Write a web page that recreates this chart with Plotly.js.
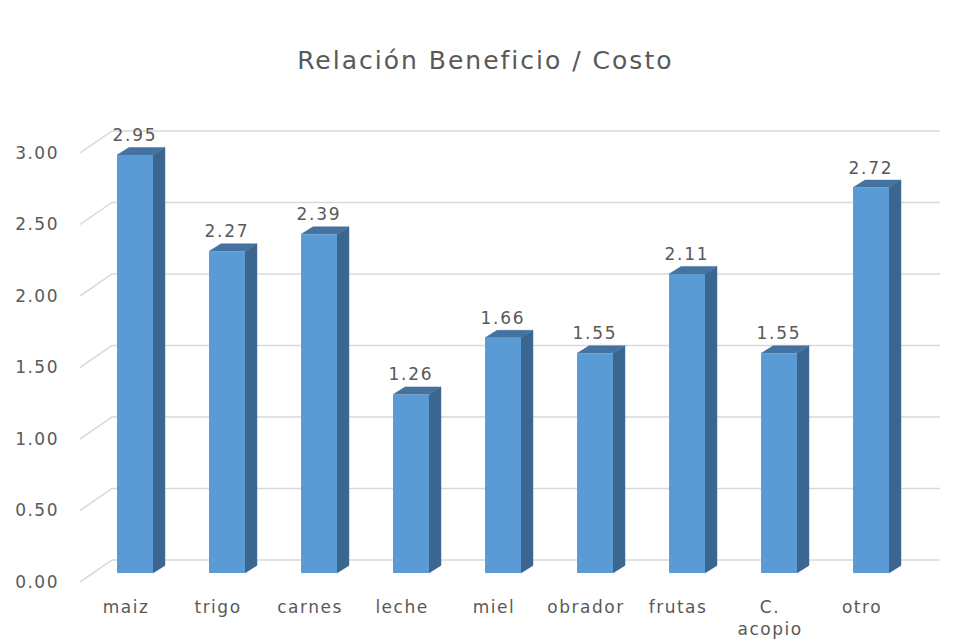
<!DOCTYPE html>
<html>
<head>
<meta charset="utf-8">
<script src="https://cdn.plot.ly/plotly-3.0.1.min.js"></script>
<style>
html,body{margin:0;padding:0;background:#fff;}
#chart .gtitle{letter-spacing:2px;}
#chart .xtick text, #chart .ytick text{letter-spacing:1.5px;}
#chart .annotation-text{letter-spacing:1.8px;}
</style>
</head>
<body>
<div id="chart" style="width:961px;height:641px;"></div>
<script>
const categories = ['maiz', 'trigo', 'carnes', 'leche', 'miel', 'obrador', 'frutas', 'C.<br>acopio', 'otro'];
const values = [2.95, 2.27, 2.39, 1.26, 1.66, 1.55, 2.11, 1.55, 2.72];
const yTicks = [0, 0.5, 1, 1.5, 2, 2.5, 3];
const yTickText = yTicks.map(t => t.toFixed(2));
const titleText = 'Relación Beneficio / Costo';

// style / 3D projection constants
const FONT = 'DejaVu Sans, sans-serif';
const TXT = '#595959';
const FRONT = '#5B9BD5';
const SIDE = '#3A6690';
const TOP = '#4573A0';
const GRID = '#D9D9D9';
const WALL_DX = 0.348;   // depth offset of back wall (category units)
const WALL_DY = 0.154;   // depth offset of back wall (value units)
const BAR_W = 0.391;
const SIDE_DX = 0.13;
const SIDE_DY = 0.053;

const idx = categories.map((_, i) => i);
const n = categories.length;

// gridlines (front-left edge -> back wall -> right end)
const gx = [], gy = [];
yTicks.forEach(t => {
  gx.push(-0.5, -0.5 + WALL_DX, n - 0.5 + WALL_DX, null);
  gy.push(t, t + WALL_DY, t + WALL_DY, null);
});

// side & top faces of the 3D bars
const sx = [], sy = [], tx = [], ty = [];
values.forEach((v, i) => {
  const r = i + BAR_W / 2, l = i - BAR_W / 2;
  sx.push(r, r + SIDE_DX, r + SIDE_DX, r, null);
  sy.push(0, SIDE_DY, v + SIDE_DY, v, null);
  tx.push(l, l + SIDE_DX, r + SIDE_DX, r, null);
  ty.push(v, v + SIDE_DY, v + SIDE_DY, v, null);
});

const traces = [
  {type: 'scatter', mode: 'lines', x: gx, y: gy, xaxis: 'x', yaxis: 'y',
   line: {color: GRID, width: 1.5}, hoverinfo: 'skip', showlegend: false},
  {type: 'bar', x: idx, y: values, xaxis: 'x2', yaxis: 'y2', width: BAR_W,
   marker: {color: FRONT, line: {width: 0}}, showlegend: false, hoverinfo: 'skip'},
  {type: 'scatter', mode: 'lines', x: sx, y: sy, xaxis: 'x2', yaxis: 'y2', fill: 'toself',
   fillcolor: SIDE, line: {color: SIDE, width: 0.5}, showlegend: false, hoverinfo: 'skip'},
  {type: 'scatter', mode: 'lines', x: tx, y: ty, xaxis: 'x2', yaxis: 'y2', fill: 'toself',
   fillcolor: TOP, line: {color: TOP, width: 0.5}, showlegend: false, hoverinfo: 'skip'}
];

const annotations = values.map((v, i) => ({
  x: i, y: v, xref: 'x2', yref: 'y2', text: v.toFixed(2), showarrow: false,
  yanchor: 'bottom', yshift: 8, font: {family: FONT, size: 17, color: TXT}
}));

const layout = {
  width: 961, height: 641,
  margin: {l: 80, r: 16, t: 120, b: 51},
  paper_bgcolor: '#fff', plot_bgcolor: 'rgba(0,0,0,0)',
  title: {text: titleText, x: 0.505, xanchor: 'center', y: 0.906, yanchor: 'middle', yref: 'container',
          font: {family: FONT, size: 25, color: TXT}},
  xaxis: {range: [-0.5, 8.902], tickvals: idx, ticktext: categories, showgrid: false, zeroline: false,
          showline: false, ticks: '', ticklabelstandoff: 5, tickfont: {family: FONT, size: 17, color: TXT}, fixedrange: true},
  yaxis: {range: [-0.0559, 3.2308], tickvals: yTicks, ticktext: yTickText, showgrid: false, zeroline: false,
          showline: false, ticks: '', ticklabelstandoff: 20, tickfont: {family: FONT, size: 17, color: TXT}, fixedrange: true},
  xaxis2: {overlaying: 'x', range: [-0.5978, 8.804], visible: false, fixedrange: true},
  yaxis2: {overlaying: 'y', anchor: 'x2', range: [-0.12, 3.1969], visible: false, fixedrange: true},
  annotations: annotations,
  showlegend: false
};

Plotly.newPlot('chart', traces, layout, {displayModeBar: false, staticPlot: true});
</script>
</body>
</html>
